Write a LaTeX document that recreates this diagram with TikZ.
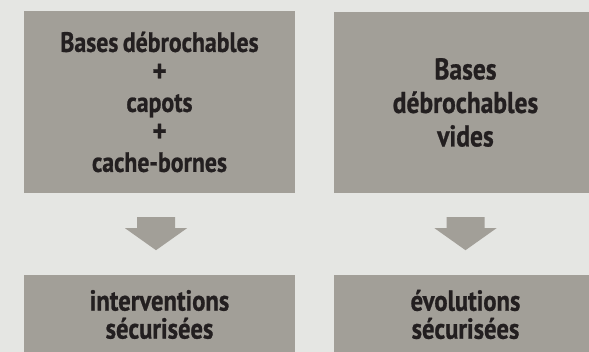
\documentclass[tikz,border=0pt]{standalone}
\usepackage{fontspec}
\setmainfont{PT Sans}[FakeStretch=0.85, BoldFeatures={FakeBold=0.8}]
\usetikzlibrary{positioning}
\definecolor{fond}{HTML}{E5E6E3}
\definecolor{boite}{HTML}{A29F98}
\definecolor{encre}{HTML}{231F20}
\newcommand{\serre}{\spaceskip=0.16em\relax}
\newcommand{\plus}{{\fontsize{32}{30}\selectfont+}}
\tikzset{
  boite/.style={fill=boite, text=encre, align=center, inner sep=0pt,
    font=\bfseries\fontsize{30}{33.5}\selectfont\serre},
  fleche/.style={fill=boite}
}

\begin{document}
\begin{tikzpicture}[x=1pt, y=1pt]
\clip (0,0) rectangle (589,352);
\fill[fond] (0,0) rectangle (589,352);
% boites du haut
\node[boite, minimum width=271pt, minimum height=182pt,
  font=\bfseries\fontsize{28}{30}\selectfont\serre] (hautg) at (159.5,250)
  {Bases débrochables\\\plus\\capots\\\plus\\cache-bornes};
\node[boite, minimum width=263pt, minimum height=181pt] (hautd) at (465.5,249.5)
  {Bases\\débrochables\\vides};
% boites du bas
\node[boite, minimum width=271pt, minimum height=79pt,
  font=\bfseries\fontsize{29}{28}\selectfont] (basg) at (159.5,37.5)
  {interventions\\sécurisées};
\node[boite, minimum width=263pt, minimum height=79pt,
  font=\bfseries\fontsize{29}{28}\selectfont] (basd) at (465.5,37.5)
  {évolutions\\sécurisées};
% fleches
\foreach \n/\dx in {hautg/-3.5, hautd/0} {
  \fill[fleche] (\n.south) ++(\dx-19,-24) -- ++(38,0) -- ++(0,-11) -- ++(12,0)
    -- ++(-31,-22) -- ++(-31,22) -- ++(12,0) -- cycle;
}
\end{tikzpicture}
\end{document}
